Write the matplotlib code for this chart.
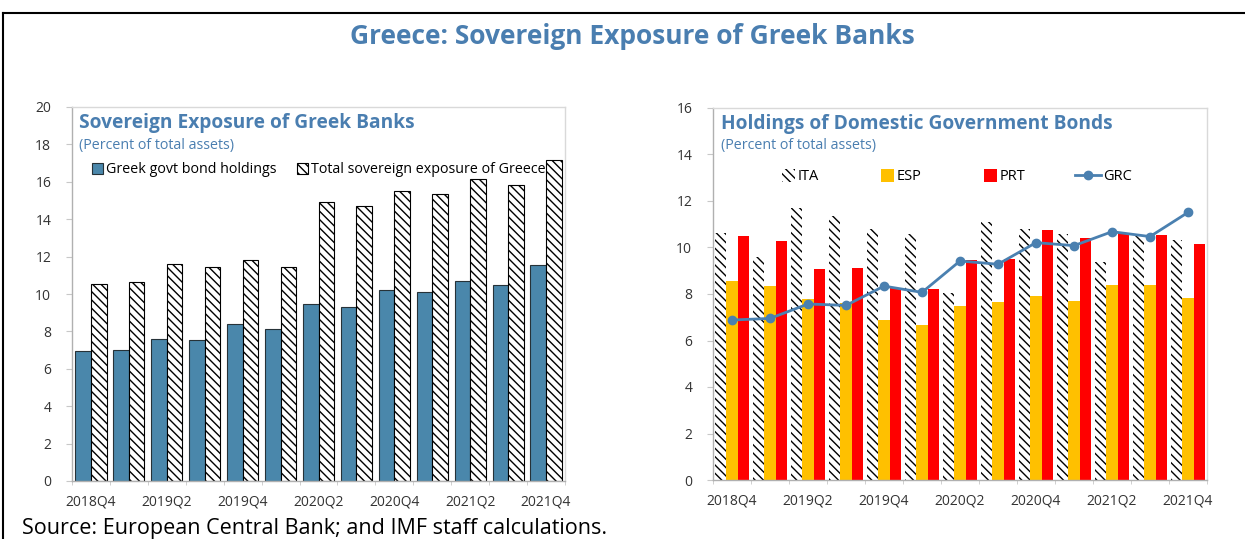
import numpy as np
import matplotlib
matplotlib.use("Agg")
import matplotlib.pyplot as plt
from matplotlib.patches import Patch, Rectangle
from matplotlib.lines import Line2D
from matplotlib.legend_handler import HandlerPatch

plt.rcParams['font.family'] = ['Open Sans', 'DejaVu Sans']
plt.rcParams['hatch.linewidth'] = 1.0

# quarters 2018Q4 .. 2021Q4
quarters = ["2018Q4", "2019Q1", "2019Q2", "2019Q3", "2019Q4", "2020Q1", "2020Q2",
            "2020Q3", "2020Q4", "2021Q1", "2021Q2", "2021Q3", "2021Q4"]

# left panel: percent of total assets
greek_govt_bonds = [6.93, 6.99, 7.61, 7.54, 8.38, 8.11, 9.45, 9.31, 10.21, 10.10, 10.69, 10.49, 11.53]
total_sovereign = [10.51, 10.63, 11.58, 11.47, 11.81, 11.44, 14.92, 14.68, 15.51, 15.37, 16.14, 15.83, 17.17]

# right panel: domestic government bond holdings
ita = [10.64, 9.61, 11.68, 11.37, 10.78, 10.58, 8.06, 11.11, 10.78, 10.58, 9.39, 10.49, 10.32]
esp = [8.57, 8.34, 7.80, 7.60, 6.88, 6.65, 7.50, 7.67, 7.91, 7.70, 8.39, 8.39, 7.81]
prt = [10.49, 10.29, 9.07, 9.10, 8.24, 8.20, 9.46, 9.49, 10.75, 10.39, 10.64, 10.54, 10.15]
grc = [6.88, 6.95, 7.57, 7.51, 8.34, 8.07, 9.42, 9.28, 10.21, 10.08, 10.68, 10.47, 11.51]

title_blue = "#4a7eb0"
bar_blue = "#4a87ab"
grc_blue = "#4a80b0"
tick_col = "#333333"
spine_col = "#c8c8c8"
HATCH = '\\\\\\\\'

W, H = 1245, 539
fig = plt.figure(figsize=(W / 100, H / 100), dpi=100)

def px_axes(x0, y_top, x1, y_bot):
    return fig.add_axes([x0 / W, 1 - y_bot / H, (x1 - x0) / W, (y_bot - y_top) / H])

ax1 = px_axes(72, 107, 565, 481)
ax2 = px_axes(713, 108, 1207, 480)

x = np.arange(len(quarters))


def style_axis(ax, ymax, step):
    ax.set_xlim(-0.5, len(quarters) - 0.5)
    ax.set_ylim(0, ymax)
    ax.set_yticks(np.arange(0, ymax + 0.1, step))
    ax.set_xticks(x[::2])
    ax.set_xticklabels(quarters[::2])
    ax.set_xticks(np.arange(-0.5, len(quarters), 1), minor=True)
    ax.tick_params(axis='x', which='major', length=0, pad=10, labelsize=10, labelcolor=tick_col)
    ax.tick_params(axis='x', which='minor', length=3, color=spine_col, direction='out')
    ax.tick_params(axis='y', length=4, color=spine_col, pad=11, labelsize=10, labelcolor=tick_col)
    for s in ax.spines.values():
        s.set_color("#d9d9d9")
        s.set_linewidth(1.0)
    ax.spines['left'].set_color("#b0b0b0")
    ax.spines['bottom'].set_color("#b0b0b0")


# ---- left panel ----
bw = 0.41
ax1.bar(x - bw / 2, greek_govt_bonds, width=bw, color=bar_blue, edgecolor="#263238", linewidth=0.8, zorder=2)
ax1.bar(x + bw / 2, total_sovereign, width=bw, color="white", edgecolor="black", linewidth=0.8,
        hatch=HATCH, zorder=2)
style_axis(ax1, 20, 2)

ax1.text(0.014, 0.957, "Sovereign Exposure of Greek Banks", transform=ax1.transAxes,
         fontsize=13.8, fontweight='bold', color=title_blue, va='center', ha='left')
ax1.text(0.014, 0.898, "(Percent of total assets)", transform=ax1.transAxes,
         fontsize=10.3, color=title_blue, va='center', ha='left')

h_blue = Patch(facecolor=bar_blue, edgecolor="#263238", linewidth=0.8)
h_hatch = Patch(facecolor="white", edgecolor="black", linewidth=0.8, hatch=HATCH)
ax1.legend([h_blue, h_hatch], ["Greek govt bond holdings", "Total sovereign exposure of Greece"],
           loc='center left', bbox_to_anchor=(0.04, 0.832), ncol=2, frameon=False,
           fontsize=10.3, handlelength=0.8, handleheight=0.8, handletextpad=0.2,
           columnspacing=1.4, borderpad=0, borderaxespad=0)

# ---- right panel ----
rw = 0.29
ax2.bar(x - rw, ita, width=rw, color="white", edgecolor="black", linewidth=0,
        hatch=HATCH, zorder=2)
ax2.bar(x, esp, width=rw, color="#ffc000", linewidth=0, zorder=2)
ax2.bar(x + rw, prt, width=rw, color="#ff0000", linewidth=0, zorder=2)
ax2.plot(x, grc, color=grc_blue, linewidth=2, marker='o', markersize=6, zorder=4)
style_axis(ax2, 16, 2)

ax2.text(0.016, 0.957, "Holdings of Domestic Government Bonds", transform=ax2.transAxes,
         fontsize=13.8, fontweight='bold', color=title_blue, va='center', ha='left')
ax2.text(0.016, 0.898, "(Percent of total assets)", transform=ax2.transAxes,
         fontsize=10.3, color=title_blue, va='center', ha='left')


def square_patch(legend, orig_handle, xdescent, ydescent, width, height, fontsize):
    side = height * 1.15
    return Rectangle((-xdescent + width - side, -ydescent + (height - side) / 2), side, side)


h_ita = Patch(facecolor="white", edgecolor="black", linewidth=0, hatch=HATCH)
h_esp = Patch(facecolor="#ffc000", linewidth=0)
h_prt = Patch(facecolor="#ff0000", linewidth=0)
h_grc = Line2D([], [], color=grc_blue, linewidth=2, marker='o', markersize=6)
sq = HandlerPatch(patch_func=square_patch)
ax2.legend([h_ita, h_esp, h_prt, h_grc], ["ITA", "ESP", "PRT", "GRC"],
           handler_map={Patch: sq},
           loc='center left', bbox_to_anchor=(0.113, 0.815), ncol=4, frameon=False,
           fontsize=10.5, handlelength=1.8, handleheight=0.85, handletextpad=0.15,
           columnspacing=3.4, borderpad=0, borderaxespad=0)

# ---- figure text and frame ----
fig.text(632 / W, 1 - 36 / H, "Greece: Sovereign Exposure of Greek Banks", ha='center', va='center',
         fontsize=19, fontweight='bold', color=title_blue)
fig.text(22 / W, 1 - 534 / H, "Source: European Central Bank; and IMF staff calculations.",
         ha='left', va='baseline', fontsize=15.5, color='black')

fig.add_artist(Line2D([3 / W, 3 / W], [0, 1 - 13 / H], color='black', linewidth=1.5))
fig.add_artist(Line2D([3 / W, 1], [1 - 13 / H, 1 - 13 / H], color='black', linewidth=1.5))

fig.savefig("out.png", dpi=100, facecolor='white')
